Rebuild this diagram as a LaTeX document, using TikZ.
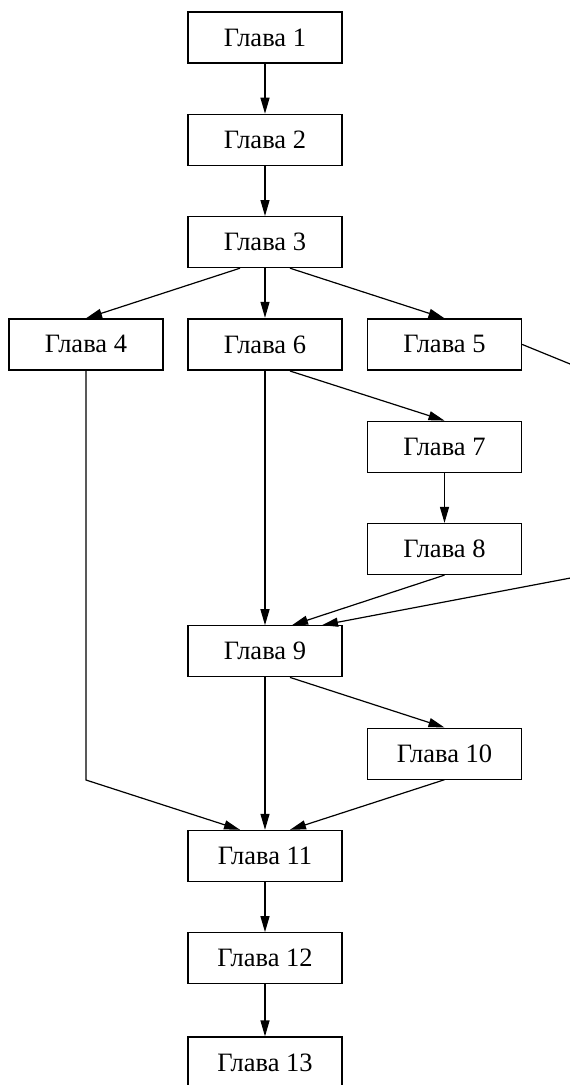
\documentclass[tikz,border=0pt]{standalone}
\usepackage{fontspec}
\setmainfont{Liberation Serif}
\usetikzlibrary{arrows.meta}
\begin{document}
\begin{tikzpicture}[x=1pt,y=-1pt,
  chap/.style={draw, line width=1.2pt, rectangle, minimum width=154pt, minimum height=51pt,
    inner sep=0pt, font=\fontsize{26.5}{30}\selectfont},
  thickchap/.style={chap, line width=2.2pt},
  edge/.style={line width=1.2pt, -{Triangle[length=16pt,width=9pt]}}]
\useasboundingbox (0,0) rectangle (570,1085);
\clip (0,0) rectangle (570,1085);
\node[chap] (n1) at (265,37.5) {Глава 1};
\node[chap] (n2) at (265,139.8) {Глава 2};
\node[chap] (n3) at (265,242.1) {Глава 3};
\node[chap] (n4) at (86,344.4) {Глава 4};
\node[thickchap] (n6) at (265,344.4) {Глава 6};
\node[chap] (n5) at (444.5,344.4) {Глава 5};
\node[chap] (n7) at (444.5,446.7) {Глава 7};
\node[chap] (n8) at (444.5,549) {Глава 8};
\node[chap] (n9) at (265,651.3) {Глава 9};
\node[chap] (n10) at (444.5,753.6) {Глава 10};
\node[chap] (n11) at (265,855.9) {Глава 11};
\node[chap] (n12) at (265,958.2) {Глава 12};
\node[chap] (n13) at (265,1062.5) {Глава 13};
\coordinate (o1) at (600,376.2);
\coordinate (o2) at (600,572.4);
\coordinate (c4) at (86,780);
\draw[edge] (n1) -- (n2);
\draw[edge] (n2) -- (n3);
\draw[edge] ([xshift=-25pt]n3.south) -- (n4.north);
\draw[edge] (n3) -- (n6);
\draw[edge] ([xshift=25pt]n3.south) -- (n5.north);
\draw[edge] ([xshift=25pt]n6.south) -- (n7.north);
\draw[edge] (n7) -- (n8);
\draw[edge] (n6) -- (n9);
\draw[edge] (n8.south) -- ([xshift=27pt]n9.north);
\draw[edge] (n5.east) -- (o1) -- (o2) -- ([xshift=57pt]n9.north);
\draw[edge] ([xshift=25pt]n9.south) -- (n10.north);
\draw[edge] (n4.south) -- (c4) -- ([xshift=-25pt]n11.north);
\draw[edge] (n9) -- (n11);
\draw[edge] (n10.south) -- ([xshift=25pt]n11.north);
\draw[edge] (n11) -- (n12);
\draw[edge] (n12) -- (n13);
\end{tikzpicture}
\end{document}
